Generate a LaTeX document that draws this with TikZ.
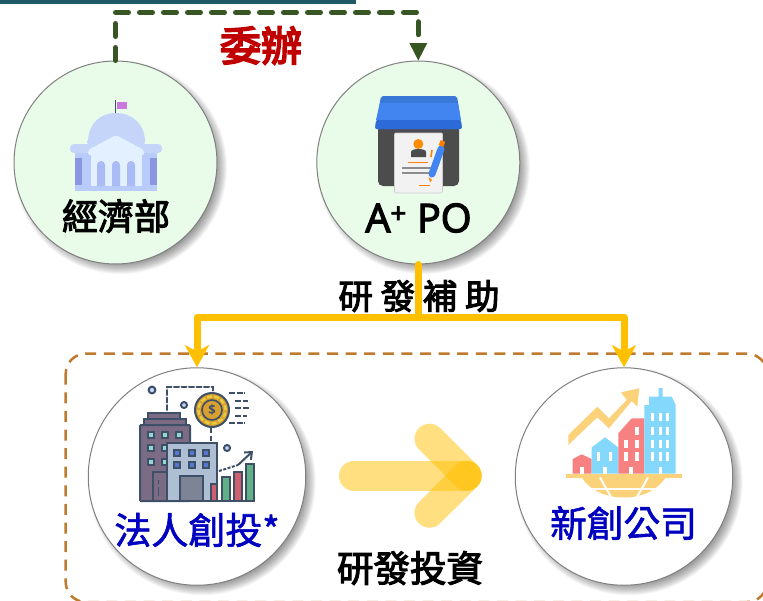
\documentclass[tikz,border=0pt]{standalone}
\usepackage{fontspec}
\usetikzlibrary{arrows.meta}
\newfontfamily\cjk[FakeBold=3]{Noto Sans CJK TC}
\newfontfamily\cjkmed[FakeBold=1.6]{Noto Sans CJK TC}
\newfontfamily\cjkheavy[FakeBold=4.5]{Noto Sans CJK TC}
\newfontfamily\latinf{Open Sans}
\newfontfamily\latinsemi[FakeBold=3.2]{Open Sans}
\definecolor{teal}{HTML}{215868}
\definecolor{dgreen}{HTML}{375623}
\definecolor{amber}{HTML}{FFC000}
\definecolor{rust}{HTML}{C07A30}
\definecolor{mint}{HTML}{E9FCE9}
\definecolor{navyb}{HTML}{0000C0}
\definecolor{crim}{HTML}{C00000}
\definecolor{ink}{HTML}{3D5068}
\definecolor{sun}{HTML}{FBD27A}
\definecolor{rosy}{HTML}{F78080}
\definecolor{skyb}{HTML}{84D8FC}
\definecolor{dome}{HTML}{C5D5FA}
\definecolor{wall}{HTML}{B8CBFA}
\definecolor{wallside}{HTML}{8C96E0}
\definecolor{portico}{HTML}{E2F0FF}
\definecolor{arch}{HTML}{AABBF5}
\definecolor{flagc}{HTML}{C878E0}
\definecolor{roofa}{HTML}{3A78D8}
\definecolor{roofb}{HTML}{4285F0}
\definecolor{roofc}{HTML}{2B6AD8}
\definecolor{penc}{HTML}{4285F0}
\definecolor{towera}{HTML}{7B6B85}
\definecolor{towerb}{HTML}{AEBFD4}
\definecolor{doorc}{HTML}{7D8496}
\definecolor{wina}{HTML}{90D8D0}
\definecolor{winb}{HTML}{5878D0}
\definecolor{barr}{HTML}{D06070}
\definecolor{barg}{HTML}{60B088}
\definecolor{coina}{HTML}{D9A030}
\definecolor{coinb}{HTML}{E8CC40}
\newcommand{\softshadow}[3]{%
  \foreach \k in {0,...,11}{\fill[black,opacity=.04] (#1+5,#2+5) circle[radius=#3+5-\k pt];}}
\tikzset{
  bubble/.style={circle,draw=black!50,line width=1pt,minimum size=#1,inner sep=0pt},
  capt/.style={font=\cjk\fontsize{36}{36}\selectfont,inner sep=0pt,anchor=center},
  flowdash/.style={draw=dgreen,line width=5pt,line cap=round,line join=round,dash pattern=on 13pt off 11pt},
  flowgold/.style={draw=amber,line width=7pt,line join=round,-{Stealth[length=22pt,width=24pt,inset=6pt]}},
  goldstem/.style={draw=amber,line width=7pt,line cap=round},
  softarrow/.style={draw=amber,line width=30pt,line cap=round,opacity=.5},
  inkline/.style={draw=ink,line width=2pt},
}
\begin{document}
\begin{tikzpicture}[x=1pt,y=-1pt]
\useasboundingbox (0,0) rectangle (763,600);
\clip (0,0) rectangle (763,600);
\fill[white] (0,0) rectangle (763,600);
\fill[teal] (0,0) rectangle (356,4);

% dashed frame
\draw[rust,line width=2.5pt,dash pattern=on 11pt off 7.6pt,rounded corners=20pt] (65.7,353.7) rectangle (767,602);

% shadows
\softshadow{115.5}{162.5}{101.5}
\softshadow{418.3}{162.5}{101.5}
\softshadow{197}{476.5}{108.7}
\softshadow{624}{476.5}{108.7}

% bubbles
\node[bubble=203pt,fill=mint] (mof) at (115.5,162.5) {};
\node[bubble=203pt,fill=mint] (apo) at (418.3,162.5) {};
\node[bubble=217.5pt,fill=white] (vc) at (197,476.5) {};
\node[bubble=217.5pt,fill=white] (startup) at (624,476.5) {};

% connectors
\coordinate (tipbase) at (418.3,39);
\draw[flowdash] (mof.north) -- ++(0,-48) -| (tipbase);
\fill[dgreen] (apo.north) -- ++(-9,-17.5) -- ++(18,0) -- cycle;
\coordinate (fork) at (418.3,317);
\draw[goldstem] (apo.south) -- (fork);
\draw[flowgold] (fork) -| (vc.north);
\draw[flowgold] (fork) -| (startup.north);

% soft arrow
\coordinate (sa) at (354,475.7);
\coordinate (sb) at (466.7,475.7);
\coordinate (sc) at (429.5,438.7);
\coordinate (sd) at (429.5,512.7);
\draw[softarrow] (sa) -- (sb);
\draw[softarrow] (sc) -- (sb);
\draw[softarrow] (sd) -- (sb);

% icon: government building
\begin{scope}
\draw[ink,line width=1.3pt] (115.8,100) -- (115.8,114);
\fill[flagc] (117,102) rectangle (127,109);
\fill[dome] (88,142) .. controls (88,124) and (100,113) .. (116,113) .. controls (132,113) and (145,124) .. (145,142) -- cycle;
\fill[wall] (75,150) rectangle (157,191);
\fill[wallside] (75,158) rectangle (82,185);
\fill[wallside] (150,158) rectangle (157,185);
\fill[dome,rounded corners=4pt] (70,144) rectangle (162,153);
\fill[dome,rounded corners=4pt] (87,138) rectangle (145,146);
\fill[portico] (91,150) rectangle (142,186);
\fill[arch] (97,186) -- (97,165) arc[start angle=180,end angle=0,radius=4pt] -- (105,186) -- cycle;
\fill[arch] (112,186) -- (112,165) arc[start angle=180,end angle=0,radius=4pt] -- (120,186) -- cycle;
\fill[arch] (127,186) -- (127,165) arc[start angle=180,end angle=0,radius=4pt] -- (135,186) -- cycle;
\fill[portico,rounded corners=2pt] (116,135) -- (88,150) -- (88,155) -- (144,155) -- (144,150) -- cycle;
\end{scope}

% icon: storefront
\begin{scope}
\fill[black!70,rounded corners=5pt] (378,125) rectangle (459,186);
\fill[roofa,rounded corners=2pt] (381,96) -- (457,96) -- (462,129) -- (375,129) -- cycle;
\fill[roofb] (380,103) -- (458,103) -- (461,120) -- (376,120) -- cycle;
\fill[roofc,rounded corners=2pt] (376,120) -- (461,120) -- (462,129) -- (375,129) -- cycle;
\fill[black!5,draw=black!20,line width=.6pt,rounded corners=1pt] (394.5,133) rectangle (442.5,193);
\fill[black!70] (411,157) -- (411,152) .. controls (411,148) and (426,148) .. (426,152) -- (426,157) -- cycle;
\fill[orange!90!yellow] (418.3,144) circle[radius=5pt];
\draw[orange,line width=1.4pt] (408,162.7) -- (428,162.7);
\draw[black!45,line width=1.2pt] (402,168) -- (431,168);
\draw[black!45,line width=1.2pt] (402,173) -- (431,173);
\draw[orange,line width=1.4pt] (419,185.5) -- (430,185.5);
\draw[orange,line width=1.6pt] (432,150) -- (431,157);
\draw[penc,line width=7pt,line cap=round] (432,174) -- (441,149);
\draw[orange,line width=5pt] (441,146) -- (443,141);
\fill[orange] (428.5,177) -- (432,180) -- (430,182) -- cycle;
\end{scope}

% icon: corporate venture
\begin{scope}
\draw[ink,line width=2pt,dash pattern=on 5pt off 2.5pt,line cap=round] (167,410) -- (167,387) -- (213,387) -- (213,393);
\draw[ink,line width=2pt,dash pattern=on 5pt off 2.5pt] (211,428) -- (211,443);
\draw[inkline,fill=towera] (148,413) rectangle (180,419);
\draw[inkline,fill=towera] (144,419) rectangle (186,425);
\draw[inkline,fill=towera,rounded corners=1pt] (140,425) rectangle (190,501);
\foreach \x/\y in {151/435,165/435,179/435,151/448,165/448,151/462,165/462}
  {\draw[ink,line width=1.6pt,fill=wina] (\x-3,\y-3) rectangle (\x+3,\y+3);}
\draw[inkline,fill=towera] (153,472) rectangle (167,501);
\draw[ink,line width=1pt] (158,480) -- (158,484);
\draw[ink,line width=1pt] (158,487) -- (158,496);
\draw[inkline,fill=towerb] (167,443) rectangle (217,501);
\foreach \x in {177,192,206}\foreach \y in {453,465}
  {\draw[ink,line width=1.6pt,fill=winb] (\x-3,\y-3) rectangle (\x+3,\y+3);}
\draw[inkline,fill=doorc] (180,476) rectangle (203,501);
\draw[inkline,fill=barr] (211,484) rectangle (217,501);
\draw[inkline,fill=barg] (222,477) rectangle (230,501);
\draw[inkline,fill=barr] (234,472) rectangle (242,501);
\draw[inkline,fill=barg] (246,464) rectangle (254,501);
\draw[ink,line width=2.4pt,rounded corners=1pt] (140,501) -- (254,501);
\draw[ink,line width=2pt,dash pattern=on 3pt off 1.5pt] (219,471) -- (238,465);
\draw[ink,line width=2pt,-{Straight Barb[length=6pt,width=10pt]}] (238,465) -- (253,451);
\draw[ink,line width=2pt,fill=coina] (212,410) circle[radius=17pt];
\draw[coinb,line width=2.4pt,dash pattern=on 5pt off 2pt] (212,410) circle[radius=13.5pt];
\draw[ink,line width=1.6pt,fill=coina] (212,410) circle[radius=10pt];
\foreach \x/\y/\r in {152/390/3.4,184/405/3,227/448/3}
  {\draw[ink,line width=2pt,fill=dome] (\x,\y) circle[radius=\r pt];}
\draw[ink,line width=2pt,dash pattern=on 6pt off 1.5pt] (229,393) -- (245,393);
\draw[ink,line width=2pt,dash pattern=on 6pt off 1.5pt] (235,401) -- (248,401);
\draw[ink,line width=2pt,dash pattern=on 6pt off 1.5pt] (235,408) -- (250,408);
\draw[ink,line width=2pt,dash pattern=on 6pt off 1.5pt] (235,416) -- (247,416);
\draw[ink,line width=2pt,dash pattern=on 6pt off 1.5pt] (229,423) -- (245,423);
\node[inner sep=0pt,font=\latinf\bfseries\fontsize{13}{13}\selectfont,text=ink] (dollar) at (212,410) {\$};
\end{scope}

% icon: city growth
\begin{scope}
\fill[sun] (568.3,435) -- (597.3,406.7) -- (609,418.3) -- (626.7,400) -- (621,392.3) -- (639.3,388.3) -- (637.3,406.7) -- (631.7,401) -- (609,428.3) -- (597.3,417.3) -- (568.3,445) -- cycle;
\fill[rosy] (572.7,473.5) -- (572.7,459) -- (581.7,454.3) -- (591.7,459) -- (591.7,473.5) -- cycle;
\fill[skyb] (591.7,473.5) -- (591.7,447.5) -- (605,437.3) -- (618.3,447.5) -- (618.3,473.5) -- cycle;
\fill[rosy] (618.3,473.5) -- (618.3,433.3) -- (631.7,418.3) -- (644.3,418.3) -- (644.3,473.5) -- cycle;
\fill[skyb] (644.3,473.5) -- (644.3,405) -- (649,405) -- (649,396.7) -- (658.5,396.7) -- (658.5,388) -- (662.7,388) -- (662.7,396.7) -- (671.7,396.7) -- (675.7,405) -- (675.7,473.5) -- cycle;
\foreach \x in {652.5,660.5,667.5}\foreach \y in {417,431,444,456.5}
  {\fill[white] (\x-1.7,\y-4.3) rectangle (\x+1.7,\y+4.3);}
\foreach \x/\y in {637/431,626/444,637/444,626/456.5,637/456.5,598.7/456.5,610.7/456.5}
  {\fill[white] (\x-1.7,\y-4.3) rectangle (\x+1.7,\y+4.3);}
\foreach \x in {582,605,631,660.5}{\fill[white] (\x-1.7,466.5) rectangle (\x+1.7,473.5);}
\fill[sun] (566,473.5) rectangle (681.7,477.5);
\fill[sun] (581.5,477.5) .. controls (590,490) and (605,497.5) .. (624,497.5) .. controls (643,497.5) and (657,490) .. (665.7,477.5) -- cycle;
\draw[white,line width=2pt] (600,477.5) -- (611,497);
\draw[white,line width=2pt] (648,477.5) -- (637,497);
\draw[white,line width=1.6pt] (585,489) -- (660,489);
\end{scope}

% labels
\node[capt,text=crim,font=\cjkheavy\fontsize{41}{41}\selectfont] (assign) at (261,45.5) {委辦};
\node[capt] (mofl) at (116,216) {經濟部};
\node[inner sep=0pt,font=\latinsemi\fontsize{39.5}{39.5}\selectfont] (apol) at (418.5,218) {A\textsuperscript{+} PO};
\node[capt,font=\cjk\fontsize{34.5}{34.5}\selectfont] (grant) at (419,296) {研 發 補 助};
\node[capt,text=navyb,font=\cjkmed\fontsize{37}{37}\selectfont] (vcl) at (197,530) {法人創投*};
\node[capt,text=navyb,font=\cjkmed\fontsize{36.7}{36.7}\selectfont] (startupl) at (623.5,523) {新創公司};
\node[capt,font=\cjk\fontsize{36.5}{36.5}\selectfont] (invest) at (410,568) {研發投資};
\end{tikzpicture}
\end{document}
